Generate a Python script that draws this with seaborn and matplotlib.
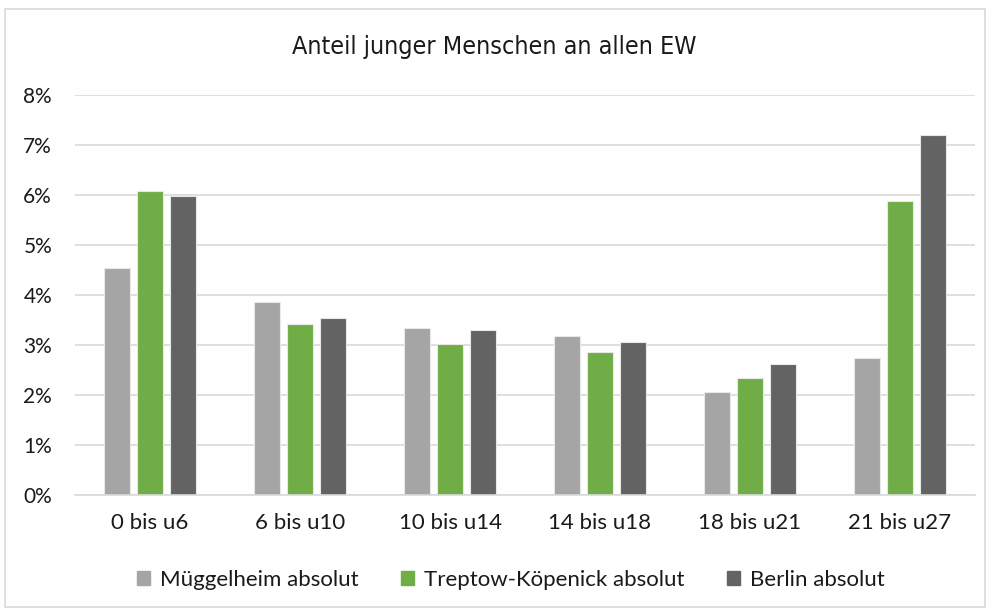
import pandas as pd
import matplotlib.pyplot as plt
import seaborn as sns
from matplotlib.patches import Rectangle
from matplotlib.ticker import PercentFormatter

# Data (share in percent)
age_groups = ['0 bis u6', '6 bis u10', '10 bis u14', '14 bis u18', '18 bis u21', '21 bis u27']
mueggelheim = [4.54, 3.86, 3.35, 3.19, 2.06, 2.74]
treptow = [6.09, 3.43, 3.03, 2.86, 2.35, 5.89]
berlin = [5.98, 3.55, 3.31, 3.06, 2.62, 7.21]
series = ['Müggelheim absolut', 'Treptow-Köpenick absolut', 'Berlin absolut']
colors = ['#A5A5A5', '#70AD47', '#636363']

df = pd.DataFrame({'Gruppe': age_groups * 3,
                   'Reihe': [series[0]] * 6 + [series[1]] * 6 + [series[2]] * 6,
                   'Wert': mueggelheim + treptow + berlin})

sns.set_style('white')
plt.rcParams['font.family'] = ['Lato', 'DejaVu Sans']

fig = plt.figure(figsize=(9.88, 6.1), dpi=100)
ax = fig.add_axes([75 / 988, 1 - 495 / 610, 900 / 988, 400 / 610])

sns.barplot(data=df, x='Gruppe', y='Wert', hue='Reihe', palette=colors,
            width=0.66, gap=0.2, edgecolor='#E8E8E8', linewidth=0.8,
            saturation=1, ax=ax, legend=False)

ax.set_ylim(0, 8)
ax.set_xlim(-0.5, 5.5)
ax.set_yticks(range(0, 9))
ax.yaxis.set_major_formatter(PercentFormatter(decimals=0))
ax.grid(axis='y', color='#D9D9D9', linewidth=1.2)
ax.set_axisbelow(True)
for s in ['top', 'right', 'left']:
    ax.spines[s].set_visible(False)
ax.spines['bottom'].set_color('#D9D9D9')
ax.spines['bottom'].set_linewidth(1.2)
ax.tick_params(axis='both', length=0, colors='#1a1a1a')
ax.tick_params(axis='x', pad=13, labelsize=16)
ax.tick_params(axis='y', pad=16.5, labelsize=15)
ax.set_xlabel('')
ax.set_ylabel('')

fig.text(0.5, 1 - 47 / 610, 'Anteil junger Menschen an allen EW', ha='center', va='center',
         fontsize=18, color='#1a1a1a', family='DejaVu Sans', fontstretch='condensed')

# Legend
handles = [Rectangle((0, 0), 1, 1, color=c) for c in colors]
fig.legend(handles, series, loc='center', bbox_to_anchor=(0.5 + 17 / 988, 1 - 580 / 610),
           ncol=3, frameon=False, fontsize=16, handlelength=0.6, handleheight=0.6,
           handletextpad=0.45, columnspacing=1.9, labelcolor='#1a1a1a')

# Outer chart border
fig.patches.append(Rectangle((5 / 988, 0.005), 980 / 988, 1 - 9 / 610 - 0.005,
                             transform=fig.transFigure, fill=False,
                             edgecolor='#D9D9D9', linewidth=1.2))

fig.savefig('out.png', dpi=100)
